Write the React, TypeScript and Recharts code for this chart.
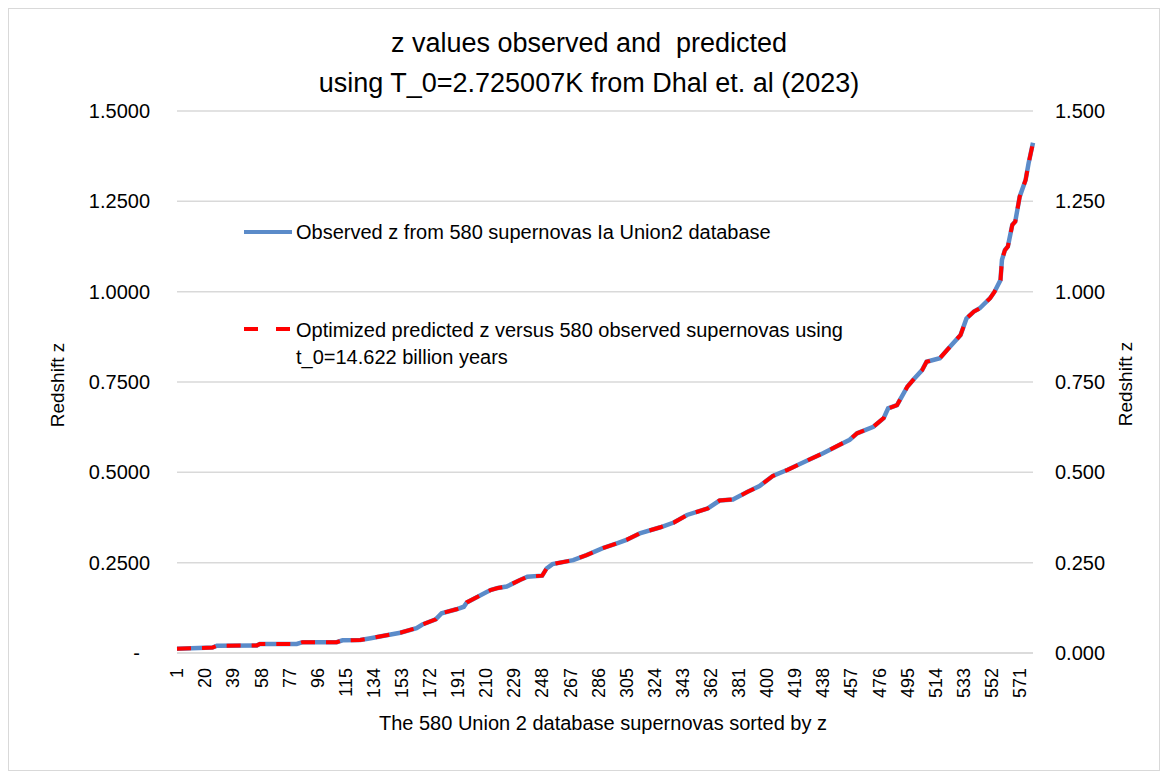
import { LineChart, Line, XAxis, YAxis, CartesianGrid, Legend } from "recharts";

// supernova rank (sorted by z) and redshift
const SN_INDEX = [
  1, 25, 28, 55, 57, 82, 86, 109, 113, 125,
  132, 140, 152, 163, 167, 176, 180, 190, 195, 197,
  213, 218, 224, 233, 238, 248, 251, 255, 269, 278,
  289, 299, 305, 314, 328, 337, 346, 360, 368, 377,
  387, 395, 404, 414, 427, 438, 450, 456, 461, 472,
  479, 482, 488, 495, 499, 505, 508, 517, 522, 531,
  535, 540, 544, 551, 554, 558, 559, 561, 563, 566,
  568, 571, 575, 577, 580,
];

const Z_OBSERVED = [
  0.012, 0.015, 0.020, 0.021, 0.025, 0.025, 0.030, 0.030, 0.035, 0.036,
  0.041, 0.047, 0.056, 0.069, 0.079, 0.093, 0.110, 0.121, 0.128, 0.140,
  0.174, 0.180, 0.184, 0.202, 0.211, 0.214, 0.234, 0.246, 0.257, 0.271,
  0.290, 0.304, 0.313, 0.331, 0.348, 0.361, 0.382, 0.400, 0.422, 0.425,
  0.446, 0.462, 0.490, 0.507, 0.532, 0.553, 0.578, 0.590, 0.608, 0.626,
  0.650, 0.677, 0.686, 0.737, 0.756, 0.783, 0.806, 0.816, 0.839, 0.880,
  0.926, 0.945, 0.954, 0.982, 1.000, 1.032, 1.088, 1.115, 1.125, 1.185,
  1.194, 1.263, 1.309, 1.355, 1.412,
];

// predicted curve sits right on top of the observed one
const Z_PREDICTED = [
  0.012, 0.015, 0.020, 0.021, 0.025, 0.025, 0.030, 0.030, 0.035, 0.036,
  0.041, 0.047, 0.056, 0.069, 0.079, 0.093, 0.110, 0.121, 0.128, 0.140,
  0.174, 0.180, 0.184, 0.202, 0.211, 0.214, 0.234, 0.246, 0.257, 0.271,
  0.290, 0.304, 0.313, 0.331, 0.348, 0.361, 0.382, 0.400, 0.422, 0.425,
  0.446, 0.462, 0.490, 0.507, 0.532, 0.553, 0.578, 0.590, 0.608, 0.626,
  0.650, 0.677, 0.686, 0.737, 0.756, 0.783, 0.806, 0.816, 0.839, 0.880,
  0.926, 0.945, 0.954, 0.982, 1.000, 1.032, 1.088, 1.115, 1.125, 1.185,
  1.194, 1.263, 1.309, 1.355, 1.412,
];

const X_TICKS = [
  1, 20, 39, 58, 77, 96, 115, 134, 153, 172, 191, 210, 229, 248, 267, 286,
  305, 324, 343, 362, 381, 400, 419, 438, 457, 476, 495, 514, 533, 552, 571,
];
const Y_TICKS = [0, 0.25, 0.5, 0.75, 1.0, 1.25, 1.5];

const OBS_NAME = "Observed z from 580 supernovas Ia Union2 database";
const PRED_LINES = [
  "Optimized predicted z versus 580 observed supernovas using",
  "t_0=14.622 billion years",
];

const FONT = "'Liberation Sans', Arial, sans-serif";
const BLUE = "#5b8bc9";
const RED = "#ff0000";
const DASH = "14 11";

const data = SN_INDEX.map((n, i) => ({
  n,
  obs: Z_OBSERVED[i],
  pred: Z_PREDICTED[i],
}));

function XTick({ x, y, payload }: any) {
  return (
    <text
      x={x}
      y={y}
      transform={`rotate(-90 ${x} ${y})`}
      textAnchor="end"
      dy="0.35em"
      fontSize={18}
      fontFamily={FONT}
      fill="#000"
    >
      {payload.value}
    </text>
  );
}

function LeftTick({ x, y, payload }: any) {
  const v = payload.value;
  // excel accounting format shows zero as a dash
  const isZero = v === 0;
  return (
    <text
      x={isZero ? x - 10 : x}
      y={y}
      textAnchor="end"
      dy="0.35em"
      fontSize={20}
      fontFamily={FONT}
      fill="#000"
    >
      {isZero ? "-" : v.toFixed(4)}
    </text>
  );
}

function LegendBox() {
  return (
    <div style={{ fontFamily: FONT, fontSize: 20, color: "#000", position: "relative", width: 640, height: 150 }}>
      <svg width={52} height={150} style={{ position: "absolute", left: 0, top: 0 }}>
        <line x1={2} x2={50} y1={12} y2={12} stroke={BLUE} strokeWidth={4} />
        <line x1={2} x2={50} y1={109} y2={109} stroke={RED} strokeWidth={4} strokeDasharray="14 18" />
      </svg>
      <div style={{ position: "absolute", left: 54, top: 0, lineHeight: "24px", whiteSpace: "nowrap" }}>
        {OBS_NAME}
      </div>
      <div style={{ position: "absolute", left: 54, top: 97, lineHeight: "27px", whiteSpace: "nowrap" }}>
        {PRED_LINES.map((l, i) => (
          <div key={i}>{l}</div>
        ))}
      </div>
    </div>
  );
}

export default function App() {
  return (
    <div
      style={{
        position: "relative",
        width: 1152,
        height: 763,
        border: "1px solid #d9d9d9",
        boxSizing: "border-box",
        background: "#fff",
        fontFamily: FONT,
      }}
    >
      <LineChart
        width={1150}
        height={761}
        data={data}
        margin={{ top: 102, right: 26, bottom: 37, left: 68 }}
      >
        <CartesianGrid yAxisId="left" vertical={false} stroke="#d9d9d9" strokeWidth={1.5} />
        <XAxis
          dataKey="n"
          type="number"
          domain={[1, 580]}
          ticks={X_TICKS}
          interval={0}
          tick={<XTick />}
          tickLine={false}
          tickSize={0}
          tickMargin={15}
          axisLine={{ stroke: "#d9d9d9", strokeWidth: 1.5 }}
          height={80}
        />
        <YAxis
          yAxisId="left"
          orientation="left"
          domain={[0, 1.5]}
          ticks={Y_TICKS}
          interval={0}
          tick={<LeftTick />}
          tickLine={false}
          axisLine={false}
          tickSize={0}
          tickMargin={27}
          width={100}
        />
        <YAxis
          yAxisId="right"
          orientation="right"
          domain={[0, 1.5]}
          ticks={Y_TICKS}
          interval={0}
          tickFormatter={(v: number) => v.toFixed(3)}
          tick={{ fontSize: 20, fontFamily: FONT, fill: "#000" }}
          tickLine={false}
          axisLine={false}
          tickSize={0}
          tickMargin={22}
          width={100}
        />
        <Legend
          layout="horizontal"
          align="center"
          verticalAlign="middle"
          content={() => <LegendBox />}
          wrapperStyle={{ left: 233, top: 211, width: 640, height: 150 }}
        />
        <Line
          yAxisId="left"
          type="linear"
          dataKey="obs"
          name={OBS_NAME}
          stroke={BLUE}
          strokeWidth={4.5}
          dot={false}
          isAnimationActive={false}
        />
        <Line
          yAxisId="right"
          type="linear"
          dataKey="pred"
          name={PRED_LINES.join(" ")}
          stroke={RED}
          strokeWidth={4}
          strokeDasharray={DASH}
          dot={false}
          isAnimationActive={false}
        />
      </LineChart>

      <div
        style={{
          position: "absolute",
          left: 580,
          top: 34,
          transform: "translate(-50%, -50%)",
          fontSize: 27,
          lineHeight: 1,
          whiteSpace: "pre",
        }}
      >
        {"z values observed and  predicted"}
      </div>
      <div
        style={{
          position: "absolute",
          left: 580,
          top: 74,
          transform: "translate(-50%, -50%)",
          fontSize: 27,
          lineHeight: 1,
          whiteSpace: "pre",
        }}
      >
        {"using T_0=2.725007K from Dhal et. al (2023)"}
      </div>
      <div
        style={{
          position: "absolute",
          left: 594,
          top: 714,
          transform: "translate(-50%, -50%)",
          fontSize: 20,
          lineHeight: 1,
          whiteSpace: "nowrap",
        }}
      >
        The 580 Union 2 database supernovas sorted by z
      </div>
      <div
        style={{
          position: "absolute",
          left: 48,
          top: 376,
          transform: "translate(-50%, -50%) rotate(-90deg)",
          fontSize: 19,
          lineHeight: 1,
          whiteSpace: "nowrap",
        }}
      >
        Redshift z
      </div>
      <div
        style={{
          position: "absolute",
          left: 1116,
          top: 375,
          transform: "translate(-50%, -50%) rotate(-90deg)",
          fontSize: 19,
          lineHeight: 1,
          whiteSpace: "nowrap",
        }}
      >
        Redshift z
      </div>
    </div>
  );
}
